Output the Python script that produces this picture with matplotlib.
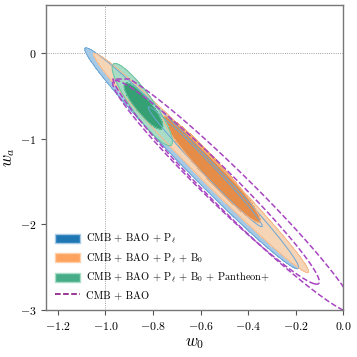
import numpy as np
import matplotlib
matplotlib.use('Agg')
import matplotlib.pyplot as plt
from matplotlib.patches import Patch
from matplotlib.lines import Line2D
from matplotlib.ticker import FuncFormatter

plt.rcParams['mathtext.fontset'] = 'cm'
plt.rcParams['font.family'] = 'serif'

labels = [r'CMB + BAO + $\mathrm{P}_\ell$',
          r'CMB + BAO + $\mathrm{P}_\ell$ + $\mathrm{B}_0$',
          r'CMB + BAO + $\mathrm{P}_\ell$ + $\mathrm{B}_0$ + Pantheon+',
          r'CMB + BAO']

# contour ellipses, [68%, 95%] per dataset:
# centre (w0, wa), half range in w0, half range in wa, correlation
blue_c0 = [-0.58, -0.637]
blue_ca = [-1.33, -1.23]
blue_r0 = [0.24, 0.45]
blue_ra = [0.70, 1.29]
blue_rho = [-0.99, -0.988]

orange_c0 = [-0.553, -0.597]
orange_ca = [-1.357, -1.285]
orange_r0 = [0.205, 0.452]
orange_ra = [0.62, 1.28]
orange_rho = [-0.965, -0.990]

green_c0 = [-0.84, -0.845]
green_ca = [-0.62, -0.603]
green_r0 = [0.082, 0.127]
green_ra = [0.27, 0.48]
green_rho = [-0.87, -0.90]

purple_c0 = [-0.535, -0.46]
purple_ca = [-1.51, -1.638]
purple_r0 = [0.435, 0.51]
purple_ra = [1.19, 1.397]
purple_rho = [-0.975, -0.9735]
purple_wa_max = -0.30   # prior edge of the CMB+BAO chain

fills = {'blue': ['#4a90c8', '#a6c9e6'],
         'orange': ['#e58d48', '#f6d4b6'],
         'green': ['#35a074', '#a9dcc6']}
edges = {'blue': '#6aa6d6', 'orange': '#f7b98a', 'green': '#6cc4a0'}


def ellipse_q(W0, WA, c0, ca, r0, ra, rho):
    x = (W0 - c0) / r0
    y = (WA - ca) / ra
    return (x**2 - 2 * rho * x * y + y**2) / (1 - rho**2)


w0 = np.linspace(-1.35, 0.3, 1000)
wa = np.linspace(-3.8, 0.7, 1000)
W0, WA = np.meshgrid(w0, wa)

fig = plt.figure(figsize=(3.57, 3.57), dpi=100)
ax = fig.add_axes([0.129, 0.132, 0.832, 0.854])

sets = [('blue', blue_c0, blue_ca, blue_r0, blue_ra, blue_rho),
        ('orange', orange_c0, orange_ca, orange_r0, orange_ra, orange_rho),
        ('green', green_c0, green_ca, green_r0, green_ra, green_rho)]

for name, c0, ca, r0, ra, rho in sets:
    # 95% first, then 68% on top
    for i in [1, 0]:
        q = ellipse_q(W0, WA, c0[i], ca[i], r0[i], ra[i], rho[i])
        ax.contourf(W0, WA, q, levels=[-1, 1], colors=[fills[name][i]])
        ax.contour(W0, WA, q, levels=[1], colors=[edges[name]], linewidths=0.7)

for i in [0, 1]:
    q = ellipse_q(W0, WA, purple_c0[i], purple_ca[i], purple_r0[i],
                  purple_ra[i], purple_rho[i])
    q = np.where(WA > purple_wa_max, 10.0, q)
    ax.contour(W0, WA, q, levels=[1], colors=['#a845c0'], linewidths=1.1,
               linestyles='--')

ax.axvline(-1.0, color='gray', ls=':', lw=0.6, zorder=0)
ax.axhline(0.0, color='gray', ls=':', lw=0.6, zorder=0)

ax.set_xlim(-1.25, 0.0)
ax.set_ylim(-3.0, 0.56)
ax.set_xticks([-1.2, -1.0, -0.8, -0.6, -0.4, -0.2, 0.0])
ax.set_yticks([-3, -2, -1, 0])
ax.xaxis.set_major_formatter(FuncFormatter(lambda v, p: r'$%.1f$' % v))
ax.yaxis.set_major_formatter(FuncFormatter(lambda v, p: r'$%d$' % round(v)))
ax.tick_params(labelsize=8.5, length=3.5, width=0.8, color='#555555')
for s in ax.spines.values():
    s.set_color('#777777')
    s.set_linewidth(1.0)

ax.set_xlabel(r'$w_0$', fontsize=12, labelpad=1)
ax.set_ylabel(r'$w_a$', fontsize=12, labelpad=2)

handles = [Patch(facecolor='#1f77b4', edgecolor='#a6c9e6'),
           Patch(facecolor='#fda35e', edgecolor='#fdd0ab'),
           Patch(facecolor='#46ad88', edgecolor='#a9dcc6'),
           Line2D([], [], color='purple', ls='--', lw=1.1)]
ax.legend(handles, labels, loc='lower left', frameon=False,
          prop={'family': 'cmr10', 'size': 7.5},
          handlelength=2.4, handleheight=0.95, labelspacing=0.5,
          handletextpad=0.5, borderaxespad=0.5)

fig.savefig('out.png', dpi=100)
